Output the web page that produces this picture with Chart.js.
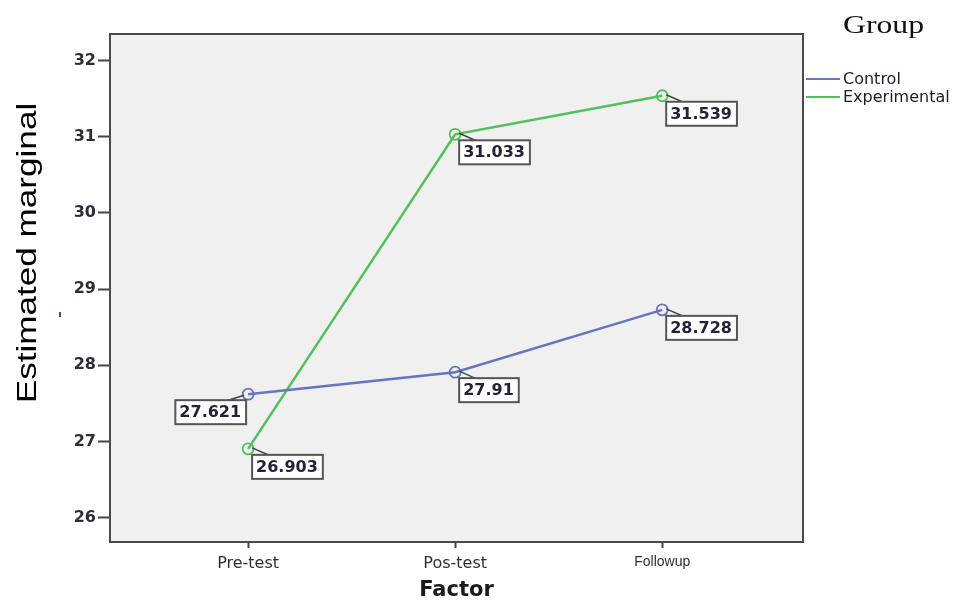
<!DOCTYPE html>
<html>
<head>
<meta charset="utf-8">
<script src="https://cdn.jsdelivr.net/npm/chart.js@4"></script>
<style>
  html, body { margin: 0; padding: 0; background: #ffffff; }
  #wrap { width: 960px; height: 605px; }
</style>
</head>
<body>
<div id="wrap"><canvas id="profile_plot" width="960" height="605"></canvas></div>
<script>
const factors = ['Pre-test', 'Pos-test', 'Followup'];
const groups = ['Control', 'Experimental'];
const control = [27.621, 27.91, 28.728];
const experimental = [26.903, 31.033, 31.539];
const yTicks = [26, 27, 28, 29, 30, 31, 32];
const xTicks = [0, 1, 2];

const groupColors = ['#6675bd', '#4fc15a'];

function toPoints(values) {
    return values.map((v, i) => ({ x: i, y: v }));
}

// frame, boxed value labels, legend and y title
const spssPlugin = {
    id: 'spssLook',
    beforeDraw: (chart) => {
        const { ctx, chartArea: a } = chart;
        ctx.save();
        ctx.fillStyle = '#ffffff';
        ctx.fillRect(0, 0, chart.width, chart.height);
        ctx.fillStyle = '#f0f0f0';
        ctx.fillRect(a.left, a.top, a.right - a.left, a.bottom - a.top);
        ctx.restore();
    },
    afterDraw: (chart) => {
        const { ctx, chartArea: a } = chart;
        ctx.save();

        // plot frame
        ctx.strokeStyle = '#4a4a4a';
        ctx.lineWidth = 2;
        ctx.strokeRect(a.left, a.top, a.right - a.left, a.bottom - a.top);

        // value boxes
        ctx.font = 'bold 16px "DejaVu Sans"';
        ctx.textBaseline = 'middle';
        ctx.textAlign = 'left';
        chart.data.datasets.forEach((ds, di) => {
            const meta = chart.getDatasetMeta(di);
            meta.data.forEach((pt, i) => {
                const txt = String(ds.data[i].y);
                const w = ctx.measureText(txt).width + 9;
                const h = 24;
                const left = (di === 0 && i === 0);
                const bx = left ? pt.x - 2 - w : pt.x + 4;
                const by = pt.y + 6;
                // tail
                ctx.strokeStyle = '#444';
                ctx.lineWidth = 1.5;
                ctx.beginPath();
                if (left) {
                    ctx.moveTo(pt.x - 4, pt.y + 1);
                    ctx.lineTo(pt.x - 20, by);
                    ctx.lineTo(pt.x - 14, by);
                } else {
                    ctx.moveTo(pt.x + 4, pt.y - 1);
                    ctx.lineTo(pt.x + 20, by);
                    ctx.lineTo(pt.x + 14, by);
                }
                ctx.stroke();
                ctx.fillStyle = '#ffffff';
                ctx.fillRect(bx, by, w, h);
                ctx.strokeStyle = '#555';
                ctx.lineWidth = 2;
                ctx.strokeRect(bx, by, w, h);
                ctx.fillStyle = '#22223a';
                ctx.fillText(txt, bx + 4, by + h / 2 + 1);
            });
        });

        // legend
        ctx.font = '26px "Liberation Serif"';
        ctx.fillStyle = '#111';
        ctx.textBaseline = 'alphabetic';
        ctx.save();
        ctx.translate(843, 33);
        ctx.scale(1.22, 1);
        ctx.fillText('Group', 0, 0);
        ctx.restore();

        ctx.font = '16px "DejaVu Sans"';
        ctx.textBaseline = 'middle';
        chart.data.datasets.forEach((ds, di) => {
            const y = 79 + di * 18;
            ctx.strokeStyle = ds.borderColor;
            ctx.lineWidth = 2;
            ctx.beginPath();
            ctx.moveTo(806, y);
            ctx.lineTo(840, y);
            ctx.stroke();
            ctx.fillStyle = '#1c1c30';
            ctx.fillText(ds.label, 843, y + 1);
        });

        // y title, stretched like the original
        ctx.save();
        ctx.translate(36, 253);
        ctx.rotate(-Math.PI / 2);
        ctx.scale(1.3, 1);
        ctx.font = '27px "Liberation Sans"';
        ctx.fillStyle = '#000';
        ctx.textAlign = 'center';
        ctx.textBaseline = 'alphabetic';
        ctx.fillText('Estimated marginal', 0, 0);
        ctx.restore();

        // stray dash left of the axis
        ctx.fillStyle = '#3a4c9a';
        ctx.fillRect(59, 312, 2, 5);

        ctx.restore();
    }
};

const ctx = document.getElementById('profile_plot').getContext('2d');

const profile_plot = new Chart(ctx, {
    type: 'line',
    data: {
        datasets: [
            {
                label: groups[0],
                data: toPoints(control),
                borderColor: groupColors[0],
                borderWidth: 2.5,
                pointRadius: 5.5,
                pointBorderWidth: 1.8,
                pointBackgroundColor: 'rgba(0,0,0,0)',
                pointBorderColor: groupColors[0]
            },
            {
                label: groups[1],
                data: toPoints(experimental),
                borderColor: groupColors[1],
                borderWidth: 2.5,
                pointRadius: 5.5,
                pointBorderWidth: 1.8,
                pointBackgroundColor: 'rgba(0,0,0,0)',
                pointBorderColor: groupColors[1]
            }
        ]
    },
    options: {
        responsive: false,
        animation: false,
        layout: {
            padding: { left: 0, right: 157, top: 34, bottom: 0 }
        },
        scales: {
            x: {
                type: 'linear',
                min: -0.667,
                max: 2.68,
                afterBuildTicks: (scale) => { scale.ticks = xTicks.map(v => ({ value: v })); },
                afterFit: (scale) => { scale.height = 63; },
                border: { display: false },
                grid: {
                    drawOnChartArea: false,
                    drawTicks: true,
                    tickLength: 6,
                    tickColor: '#444',
                    tickWidth: 2
                },
                ticks: {
                    padding: 6,
                    maxRotation: 0,
                    autoSkip: false,
                    color: '#2e2e3a',
                    font: (c) => c.index === 2
                        ? { size: 14, family: 'Liberation Sans' }
                        : { size: 16, family: 'DejaVu Sans' },
                    callback: (v) => factors[v]
                },
                title: {
                    display: true,
                    text: 'Factor',
                    color: '#1a1a1a',
                    padding: { top: 0, bottom: 2 },
                    font: { size: 21, weight: 'bold', family: 'DejaVu Sans' }
                }
            },
            y: {
                min: 25.68,
                max: 32.35,
                afterBuildTicks: (scale) => { scale.ticks = yTicks.map(v => ({ value: v })); },
                afterFit: (scale) => { scale.width = 110; },
                border: { display: false },
                grid: {
                    drawOnChartArea: false,
                    drawTicks: true,
                    tickLength: 12,
                    tickColor: '#444',
                    tickWidth: 2
                },
                ticks: {
                    padding: 2,
                    color: '#2e2e3a',
                    font: { size: 16, weight: 'bold', family: 'DejaVu Sans' }
                }
            }
        },
        plugins: {
            legend: { display: false },
            tooltip: { enabled: false }
        }
    },
    plugins: [spssPlugin]
});
</script>
</body>
</html>
